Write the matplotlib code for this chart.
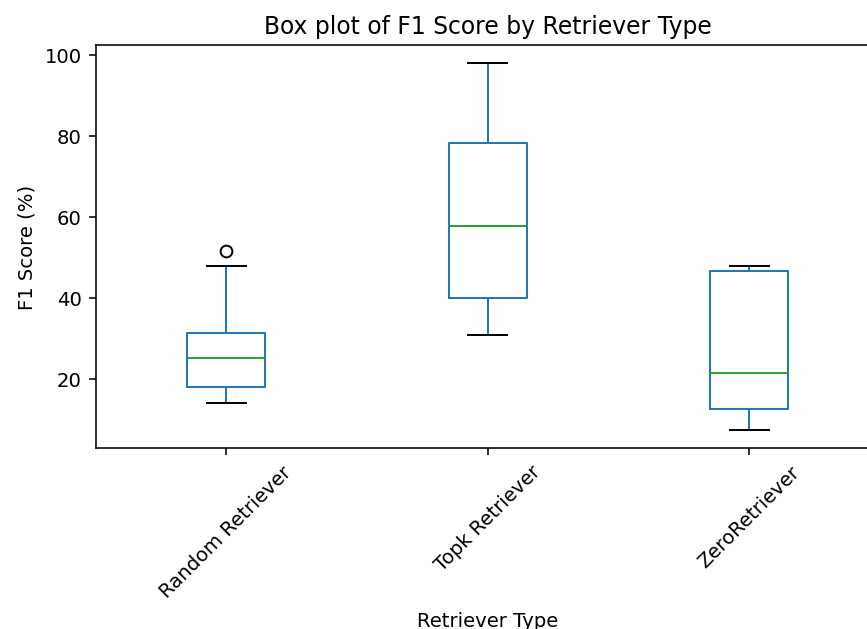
import matplotlib.pyplot as plt

retrievers = ['Random Retriever', 'Topk Retriever', 'ZeroRetriever']
whis_low = [14.1, 30.9, 7.5]
q1 = [18.0, 40.0, 12.6]
median = [25.3, 57.7, 21.6]
q3 = [31.4, 78.2, 46.6]
whis_high = [48.0, 98.0, 48.0]
outliers = [[51.6], [], []]

DPI = 141
W, H = 867, 630

stats = []
for i, name in enumerate(retrievers):
    stats.append({
        'label': name,
        'whislo': whis_low[i],
        'q1': q1[i],
        'med': median[i],
        'q3': q3[i],
        'whishi': whis_high[i],
        'fliers': outliers[i],
    })

fig = plt.figure(figsize=(W / DPI, H / DPI), dpi=DPI)
ax = fig.add_axes([95.5 / W, (H - 449) / H, (880 - 95.5) / W, (449 - 45.7) / H])

blue = '#1f77b4'
ax.bxp(stats, widths=0.3,
       boxprops=dict(color=blue),
       whiskerprops=dict(color=blue),
       capprops=dict(color='k'),
       medianprops=dict(color='#2ca02c'),
       flierprops=dict(marker='o', markeredgecolor='k', markerfacecolor='none'))

ax.set_xlim(0.5, 3.5)
ax.set_ylim(2.97, 102.5)
ax.set_yticks([20, 40, 60, 80, 100])
plt.setp(ax.get_xticklabels(), rotation=45)

ax.set_title('Box plot of F1 Score by Retriever Type')
ax.set_xlabel('Retriever Type', labelpad=5.5)
ax.set_ylabel('F1 Score (%)')

fig.savefig('out.png', dpi=DPI)
